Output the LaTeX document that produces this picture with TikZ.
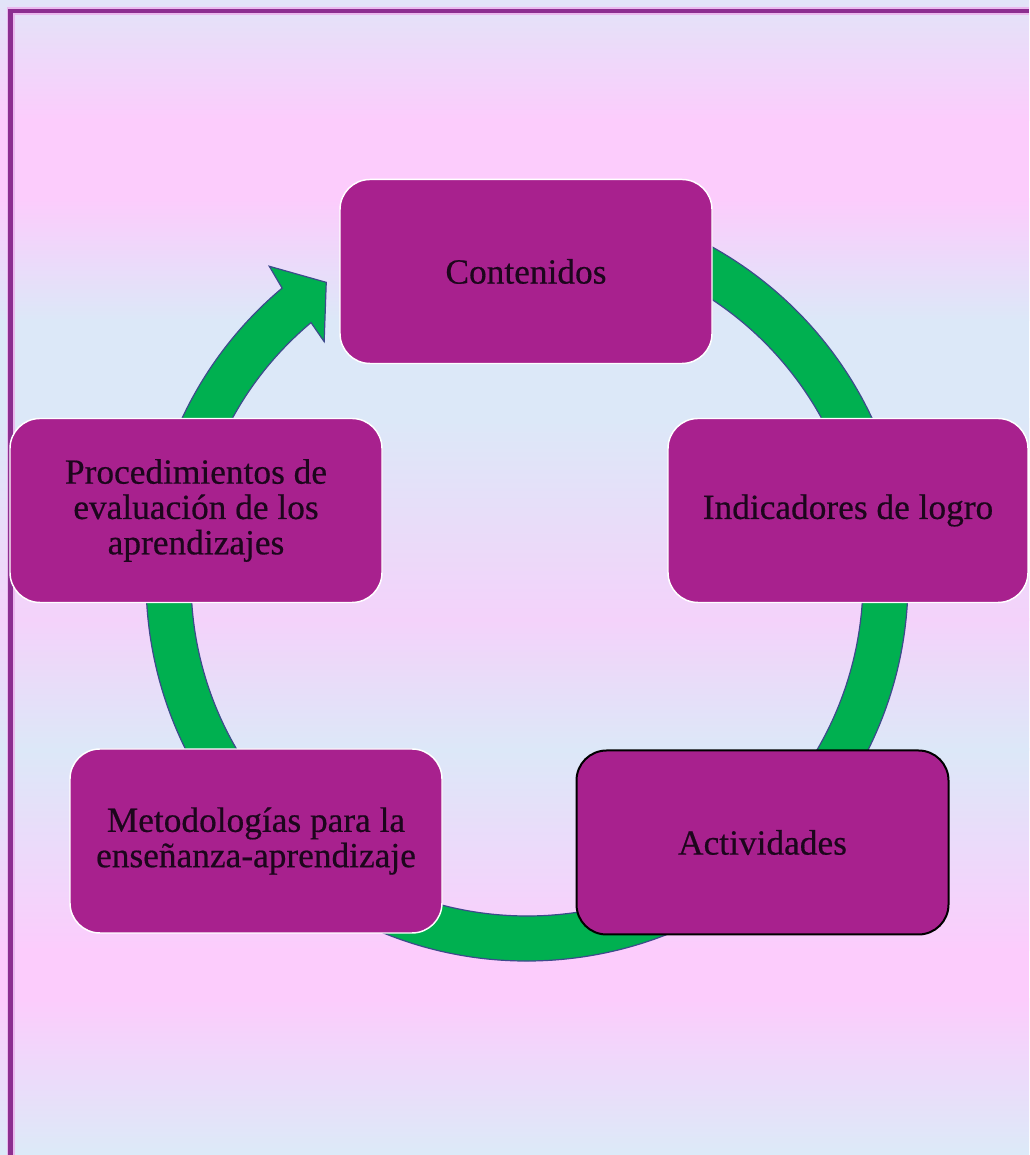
\documentclass[tikz,border=0pt]{standalone}
\usepackage{fontspec}
\setmainfont{Liberation Serif}
\newfontfamily\boxfont[FakeBold=0.45]{Liberation Serif}
\definecolor{bgA}{HTML}{E2E4F8}
\definecolor{bgP}{HTML}{FCCCFC}
\definecolor{bgB}{HTML}{DCE8F8}
\definecolor{bgQ}{HTML}{F4D2FA}
\definecolor{bgC}{HTML}{DCEAF8}
\definecolor{framecol}{HTML}{8C2E90}
\definecolor{framehalo}{HTML}{EAB8EE}
\definecolor{boxfill}{HTML}{A8218E}
\definecolor{boxtext}{HTML}{1C061C}
\definecolor{ringfill}{HTML}{00B050}
\definecolor{ringline}{HTML}{3E4A8C}
\begin{document}
\begin{tikzpicture}[x=0.75pt,y=0.75pt,
  box/.style={rectangle, rounded corners=22.5pt, fill=boxfill, draw=white,
    line width=1.1pt, minimum width=279pt, minimum height=138pt,
    align=center, text=boxtext, inner sep=2pt,
    font=\boxfont\fontsize{26.5}{26.5}\selectfont},
  ring/.style={fill=ringfill, draw=ringline, line width=0.9pt, line join=miter}]
\useasboundingbox (0,0) rectangle (1029,1155);
% background
\fill[top color=bgA, bottom color=bgP] (0,1155) rectangle (1029,1034);
\fill[bgP] (0,1036) rectangle (1029,954);
\fill[top color=bgP, bottom color=bgB] (0,956) rectangle (1029,834);
\fill[bgB] (0,836) rectangle (1029,734);
\fill[top color=bgB, bottom color=bgQ] (0,736) rectangle (1029,534);
\fill[top color=bgQ, bottom color=bgB] (0,536) rectangle (1029,404);
\fill[top color=bgB, bottom color=bgP] (0,406) rectangle (1029,204);
\fill[bgP] (0,206) rectangle (1029,154);
\fill[top color=bgP, bottom color=bgC] (0,156) rectangle (1029,0);
% frame
\draw[framehalo, line width=6pt] (10.5,0) -- (10.5,1144) -- (1029,1144);
\draw[framecol, line width=3.6pt] (10.5,0) -- (10.5,1144) -- (1029,1144);
% circular arrow
\begin{scope}[shift={(527,575)}]
  \draw[ring] (95:381) arc[start angle=95, end angle=-230, radius=381]
    -- (-230.6:406) -- (-236:359) -- (-229.6:313) -- (-230:336)
    arc[start angle=-230, end angle=95, radius=336] -- cycle;
\end{scope}
% boxes
\node[box] (cont) at (526,883.5) {Contenidos};
\node[box, minimum width=270pt] (ind) at (848,644.5) {Indicadores de logro};
\node[box, draw=black, line width=1.5pt] (act) at (762.5,312.5) {Actividades};
\node[box] (met) at (256,314) {Metodologías para la\\enseñanza-aprendizaje};
\node[box] (proc) at (196,644.5) {Procedimientos de\\evaluación de los\\aprendizajes};
\end{tikzpicture}
\end{document}
